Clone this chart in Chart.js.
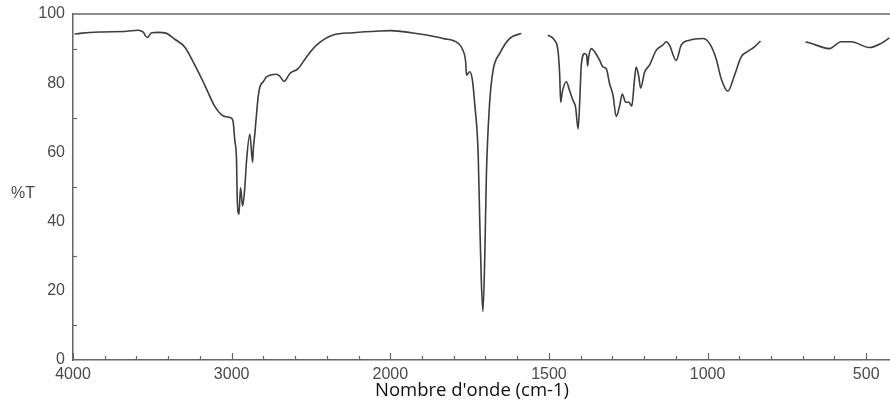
<!DOCTYPE html>
<html lang="fr">
<head>
    <meta charset="UTF-8">
    <title>Spectre IR</title>
    <script src="https://cdn.jsdelivr.net/npm/chart.js"></script>
    <style>
        html, body { margin: 0; padding: 0; background: #ffffff; overflow: hidden; }
        #wrap { width: 890px; height: 405px; }
    </style>
</head>
<body>
<div id="wrap"><canvas id="irChart"></canvas></div>

<script>
    // wavenumbers (cm-1), null = gap in the trace
    const waveNumbers = [
        3990, 3956, 3830, 3660, 3591, 3559, 3532, 3504, 3465, 3410,
        3358, 3295, 3232, 3169, 3106, 3055, 3011, 2992, 2980, 2969,
        2965, 2954, 2944, 2931, 2917, 2906, 2885, 2868, 2864, 2854,
        2843, 2833, 2822, 2801, 2780, 2717, 2696, 2669, 2633, 2581,
        2528, 2465, 2360, 2234, 2066, 2000, 1907, 1834, 1786, 1771,
        1762, 1760, 1750, 1741, 1734, 1723, 1718, 1713, 1708, 1702,
        1697, 1687, 1676, 1655, 1624, 1587, 1545, 1503, 1482, 1471,
        1466, 1463, 1458, 1445, 1435, 1424, 1416, 1408, 1403, 1398,
        1387, 1381, 1378, 1375, 1366, 1356, 1340, 1330, 1319, 1309,
        1298, 1288, 1277, 1269, 1258, 1248, 1239, 1230, 1225, 1217,
        1211, 1198, 1183, 1162, 1141, 1130, 1120, 1099, 1083, 1057,
        1015, 994, 973, 957, 936, 915, 894, 873, 852, 833,
        760, 691, 658, 616, 579, 547, 490, 453, 427
    ];

    // transmittance (%T)
    const transmittance = [
        94.2, 94.4, 94.8, 95.0, 95.3, 94.8, 93.2, 94.6, 94.7, 94.4,
        92.7, 90.4, 85.2, 79.4, 73.3, 70.6, 70.1, 69.2, 63.4, 57.6,
        46.9, 42.1, 49.8, 44.5, 49.8, 57.6, 65.3, 57.1, 60.5, 65.3,
        71.1, 76.0, 78.9, 80.4, 81.8, 82.6, 82.0, 80.5, 82.8, 84.2,
        87.6, 91.0, 93.9, 94.6, 95.1, 95.2, 94.2, 92.9, 91.5, 89.5,
        85.7, 82.3, 83.3, 80.8, 74.1, 59.6, 40.1, 22.7, 14.0, 30.5,
        53.8, 74.1, 83.7, 88.6, 92.9, 94.4, null, 93.9, 92.4, 89.1,
        82.3, 74.5, 77.4, 80.4, 77.9, 75.0, 73.1, 66.8, 74.5, 85.2,
        88.6, 88.0, 85.0, 87.5, 90.0, 89.1, 86.6, 84.7, 84.2, 79.9,
        76.5, 70.4, 73.5, 76.9, 74.5, 74.5, 73.4, 81.3, 84.7, 82.0,
        78.6, 83.3, 85.2, 89.5, 91.0, 92.0, 91.0, 86.6, 91.0, 92.4,
        92.9, 91.5, 87.1, 81.3, 77.7, 82.3, 87.6, 89.2, 90.5, 92.2,
        null, 92.0, 91.0, 90.0, 92.0, 92.0, 90.3, 91.5, 93.1
    ];

    const xTickLabels = [4000, 3000, 2000, 1500, 1000, 500];
    const yTickLabels = [0, 20, 40, 60, 80, 100];

    // the axis is compressed by half above 2000 cm-1
    function toPos(w) {
        return w >= 2000 ? (4000 - w) / 2 : 1000 + (2000 - w);
    }
    function toWave(p) {
        return p <= 1000 ? 4000 - 2 * p : 3000 - p;
    }

    const axisColor = '#666666';
    const textColor = '#4a4a4a';
    const tickFont = { family: 'Liberation Sans', size: 16 };

    const points = waveNumbers.map((w, i) => ({ x: toPos(w), y: transmittance[i] }));

    const extraMarks = {
        id: 'extraMarks',
        afterDraw(chart) {
            const ctx = chart.ctx;
            const xs = chart.scales.x;
            const ys = chart.scales.y;
            const area = chart.chartArea;
            ctx.save();
            ctx.strokeStyle = axisColor;
            ctx.lineWidth = 1.5;

            // top frame line
            ctx.beginPath();
            ctx.moveTo(area.left, area.top);
            ctx.lineTo(area.right, area.top);
            ctx.stroke();

            // inward ticks on x axis: minor every 100 positions, major every 500
            ctx.lineWidth = 1.2;
            for (let p = 0; p <= xs.max; p += 100) {
                const px = Math.round(xs.getPixelForValue(p)) + 0.5;
                const len = (p % 500 === 0) ? 7 : 4;
                ctx.beginPath();
                ctx.moveTo(px, area.bottom);
                ctx.lineTo(px, area.bottom - len);
                ctx.stroke();
            }
            // inward minor ticks on y axis
            for (let v = 10; v < 100; v += 20) {
                const py = Math.round(ys.getPixelForValue(v)) + 0.5;
                ctx.beginPath();
                ctx.moveTo(area.left, py);
                ctx.lineTo(area.left + 4, py);
                ctx.stroke();
            }

            // axis titles
            ctx.fillStyle = textColor;
            ctx.font = '16px "Liberation Sans"';
            ctx.textAlign = 'center';
            ctx.textBaseline = 'middle';
            ctx.fillText('%T', 23, 194);

            ctx.fillStyle = '#111111';
            ctx.font = '18.5px "Open Sans"';
            ctx.fillText("Nombre d'onde (cm-1)", 472, 391);
            ctx.restore();
        }
    };

    new Chart(document.getElementById('irChart'), {
        type: 'line',
        data: {
            datasets: [{
                label: '%T',
                data: points,
                borderColor: '#3d3d3d',
                borderWidth: 1.6,
                pointRadius: 0,
                fill: false,
                spanGaps: false,
                cubicInterpolationMode: 'monotone'
            }]
        },
        options: {
            responsive: true,
            maintainAspectRatio: false,
            animation: false,
            layout: { padding: { top: 14, right: -6, left: 0, bottom: 0 } },
            plugins: {
                legend: { display: false },
                tooltip: { enabled: false }
            },
            scales: {
                x: {
                    type: 'linear',
                    min: 0,
                    max: 2575,
                    afterBuildTicks(scale) {
                        scale.ticks = xTickLabels.map(w => ({ value: toPos(w) }));
                    },
                    afterFit(scale) { scale.height = 45; },
                    grid: { display: false, drawTicks: false },
                    border: { display: true, color: axisColor, width: 1.5 },
                    ticks: {
                        autoSkip: false,
                        maxRotation: 0,
                        padding: 5,
                        color: textColor,
                        font: tickFont,
                        callback: v => String(toWave(v))
                    }
                },
                y: {
                    min: 0,
                    max: 100,
                    afterBuildTicks(scale) {
                        scale.ticks = yTickLabels.map(v => ({ value: v }));
                    },
                    afterFit(scale) {
                        scale.width = 73;
                        scale.paddingTop = 0;
                        scale.paddingBottom = 0;
                    },
                    grid: { display: false, drawTicks: false },
                    border: { display: true, color: axisColor, width: 1.5 },
                    ticks: {
                        padding: 8,
                        color: textColor,
                        font: tickFont,
                        callback: v => String(v)
                    }
                }
            }
        },
        plugins: [extraMarks]
    });
</script>
</body>
</html>
